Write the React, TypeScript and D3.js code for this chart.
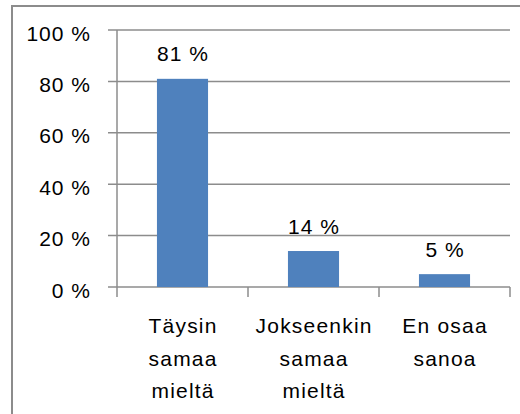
import React from "react";
import * as d3 from "d3";

const categories: string[][] = [
  ["Täysin", "samaa", "mieltä"],
  ["Jokseenkin", "samaa", "mieltä"],
  ["En osaa", "sanoa"],
];
const values: number[] = [81, 14, 5];
const yTicks: number[] = [0, 20, 40, 60, 80, 100];

const W = 520;
const H = 414;
const left = 117;
const right = 510;
const top = 30;
const bottom = 287;
const FONT = "'Liberation Sans', Arial, sans-serif";

export default function App() {
  const keys = categories.map((c) => c.join(" "));
  const x = d3
    .scaleBand<string>()
    .domain(keys)
    .range([left, right])
    .paddingInner(0.61)
    .paddingOuter(0.305);
  const y = d3.scaleLinear().domain([0, 100]).range([bottom, top]);
  const step = x.step();
  const grid = "#8c8c8c";

  return (
    <svg
      width={W}
      height={H}
      style={{ position: "absolute", left: 0, top: 0, background: "#fff" }}
      fontFamily={FONT}
    >
      <rect x={12} y={6} width={W} height={H} fill="#fff" stroke="#8c8c8c" strokeWidth={2} />
      {yTicks.map((t) => (
        <g key={t}>
          <line x1={left - 9} x2={right} y1={y(t)} y2={y(t)} stroke={grid} strokeWidth={1.5} />
          <text
            x={91}
            y={y(t) + 10.5}
            textAnchor="end"
            fontSize={21}
            letterSpacing={1}
            fill="#000"
          >
            {t} %
          </text>
        </g>
      ))}
      <line x1={left} x2={left} y1={top} y2={bottom + 10} stroke={grid} strokeWidth={1.5} />
      {keys.map((k, i) => (
        <line
          key={"t" + i}
          x1={left + step * (i + 1)}
          x2={left + step * (i + 1)}
          y1={bottom}
          y2={bottom + 10}
          stroke={grid}
          strokeWidth={1.5}
        />
      ))}
      {keys.map((k, i) => (
        <g key={k}>
          <rect
            x={x(k)!}
            y={y(values[i])}
            width={x.bandwidth()}
            height={y(0) - y(values[i])}
            fill="#4F81BD"
          />
          <text
            x={x(k)! + x.bandwidth() / 2 + 0.5}
            y={y(values[i]) - 17.5}
            textAnchor="middle"
            fontSize={21}
            letterSpacing={1}
            fill="#000"
          >
            {values[i]} %
          </text>
          {categories[i].map((line, j) => (
            <text
              key={j}
              x={x(k)! + x.bandwidth() / 2 + 0.6}
              y={333 + j * 32.5}
              textAnchor="middle"
              fontSize={21}
              letterSpacing={1.2}
              fill="#000"
            >
              {line}
            </text>
          ))}
        </g>
      ))}
    </svg>
  );
}
